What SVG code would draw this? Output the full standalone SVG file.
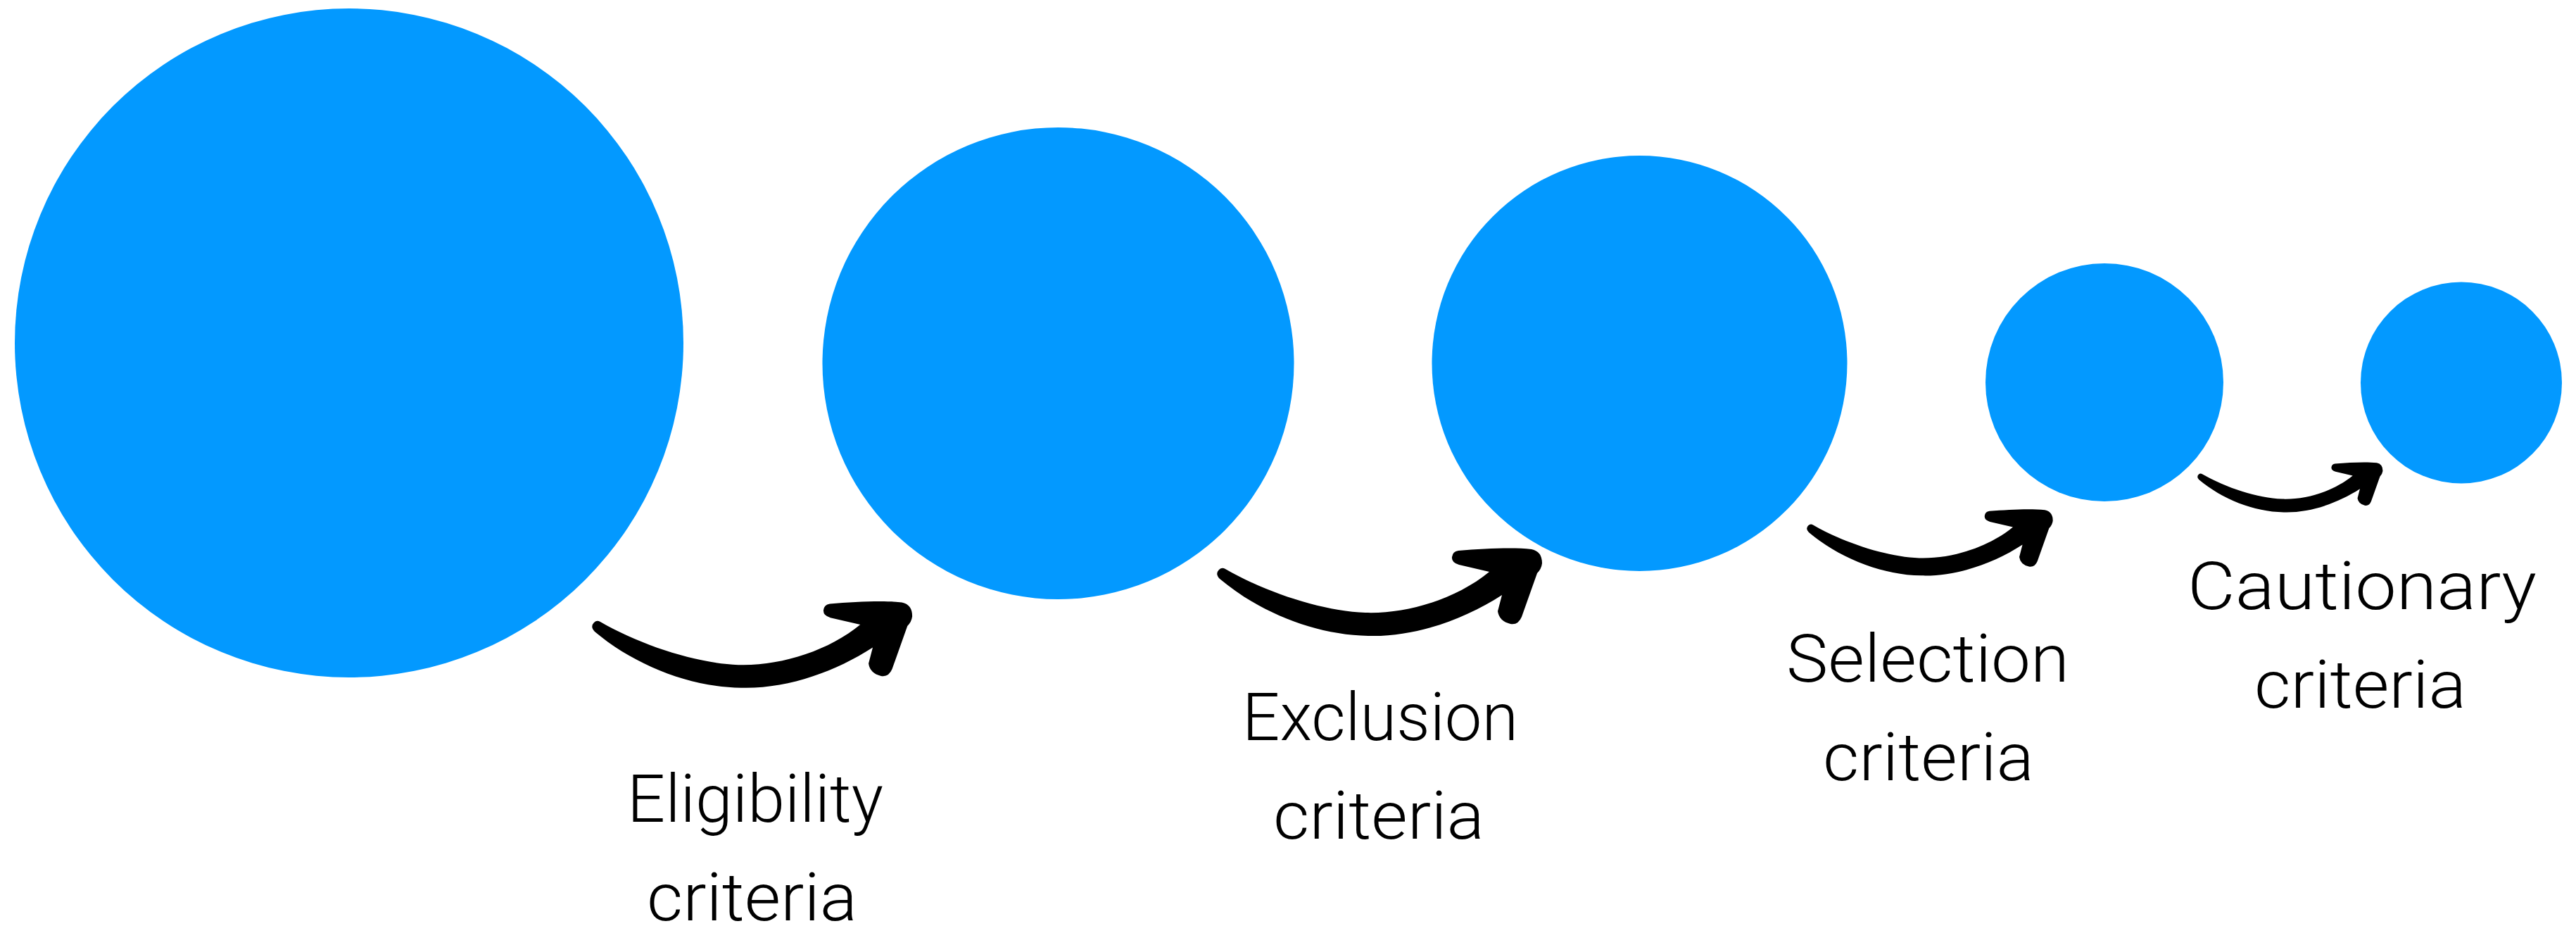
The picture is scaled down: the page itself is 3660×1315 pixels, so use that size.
<svg xmlns="http://www.w3.org/2000/svg" xmlns:xlink="http://www.w3.org/1999/xlink" width="3660" height="1315" viewBox="0 0 3660 1315">
<style>
.node{fill:#0399ff}
.lbl{font-family:Roboto,"Liberation Sans",sans-serif;font-weight:300;font-size:94px;fill:#000}
.arrow{fill:#000}
</style>
<defs>
<path id="arw" d="M 1741 808 C 1800 842 1880 868 1940 870 C 2000 872 2070 850 2116 812 L 2073 802 Q 2062 799 2063 791 Q 2064 783 2072 782 C 2110 779 2150 777 2176 780 Q 2191 783 2191 800 Q 2190 808 2184 814 L 2162 876 Q 2157 888 2146 886 Q 2130 882 2128 868 L 2134 845 C 2080 880 2010 905 1944 903 C 1870 902 1790 870 1733 822 Q 1726 815 1732 809 Q 1736 805 1741 808 Z"/>
</defs>
<rect width="3660" height="1315" fill="#fff"/>
<g id="node-1"><circle class="node" cx="496" cy="487" r="475"/></g>
<g id="node-2"><circle class="node" cx="1503.5" cy="516" r="335"/></g>
<g id="node-3"><circle class="node" cx="2329.5" cy="516" r="295"/></g>
<g id="node-4"><circle class="node" cx="2990" cy="543" r="169"/></g>
<g id="node-5"><circle class="node" cx="3497" cy="543.5" r="143"/></g>
<g id="connectors" class="arrow">
<use xlink:href="#arw" href="#arw" transform="translate(845 889) scale(0.985) translate(-1733 -814)"/>
<use xlink:href="#arw" href="#arw"/>
<use xlink:href="#arw" href="#arw" transform="translate(2570 750) scale(0.757) translate(-1733 -814)"/>
<use xlink:href="#arw" href="#arw" transform="translate(3124.4 676.7) scale(0.57) translate(-1733 -814)"/>
</g>
<g id="labels">
<text class="lbl" x="891" y="1167" textLength="364" lengthAdjust="spacingAndGlyphs">Eligibility</text>
<text class="lbl" x="919" y="1307" textLength="299" lengthAdjust="spacingAndGlyphs">criteria</text>
<text class="lbl" x="1765" y="1051" textLength="392" lengthAdjust="spacingAndGlyphs">Exclusion</text>
<text class="lbl" x="1809" y="1191" textLength="300" lengthAdjust="spacingAndGlyphs">criteria</text>
<text class="lbl" x="2538" y="968" textLength="402" lengthAdjust="spacingAndGlyphs">Selection</text>
<text class="lbl" x="2590" y="1108" textLength="300" lengthAdjust="spacingAndGlyphs">criteria</text>
<text class="lbl" x="3108" y="865" textLength="496" lengthAdjust="spacingAndGlyphs">Cautionary</text>
<text class="lbl" x="3203" y="1005" textLength="301" lengthAdjust="spacingAndGlyphs">criteria</text>
</g>
</svg>
